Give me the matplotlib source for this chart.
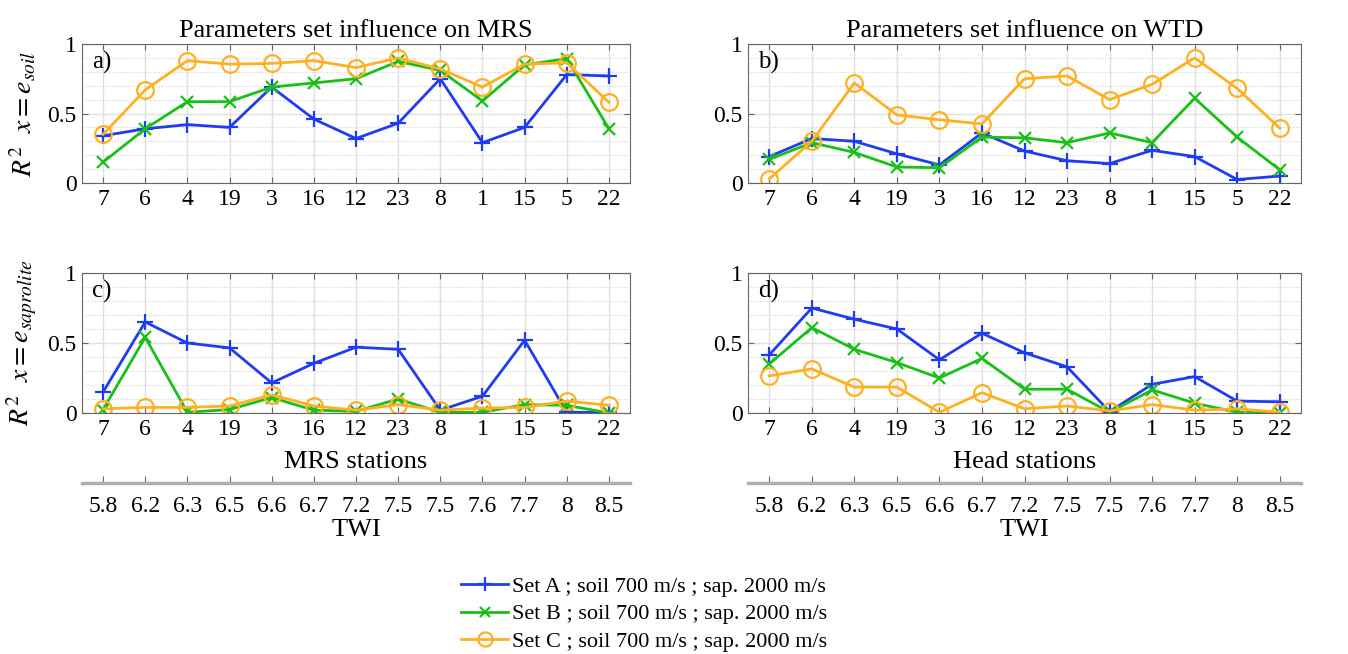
import matplotlib.pyplot as plt
import numpy as np
from matplotlib.ticker import MultipleLocator

plt.rcParams['font.family'] = ['Liberation Serif', 'DejaVu Serif']
plt.rcParams['mathtext.fontset'] = 'stix'

stations = ["7", "6", "4", "19", "3", "16", "12", "23", "8", "1", "15", "5", "22"]
twi = ["5.8", "6.2", "6.3", "6.5", "6.6", "6.7", "7.2", "7.5", "7.5", "7.6", "7.7", "8", "8.5"]

# a) MRS, x = e_soil
a_setA = [0.34, 0.39, 0.42, 0.40, 0.69, 0.46, 0.32, 0.43, 0.75, 0.29, 0.40, 0.78, 0.77]
a_setB = [0.15, 0.39, 0.585, 0.585, 0.69, 0.72, 0.75, 0.875, 0.81, 0.59, 0.85, 0.895, 0.39]
a_setC = [0.35, 0.67, 0.88, 0.855, 0.86, 0.88, 0.83, 0.90, 0.82, 0.69, 0.855, 0.865, 0.58]

# b) WTD, x = e_soil
b_setA = [0.19, 0.32, 0.30, 0.21, 0.13, 0.36, 0.23, 0.16, 0.14, 0.235, 0.19, 0.025, 0.05]
b_setB = [0.17, 0.29, 0.22, 0.115, 0.11, 0.33, 0.325, 0.29, 0.36, 0.29, 0.61, 0.33, 0.095]
b_setC = [0.03, 0.30, 0.72, 0.49, 0.455, 0.425, 0.75, 0.77, 0.60, 0.71, 0.90, 0.68, 0.395]

# c) MRS, x = e_saprolite
c_setA = [0.15, 0.65, 0.50, 0.465, 0.215, 0.355, 0.47, 0.455, 0.02, 0.12, 0.52, 0.005, 0.005]
c_setB = [0.025, 0.54, 0.005, 0.025, 0.11, 0.02, 0.012, 0.10, 0.005, 0.005, 0.06, 0.055, 0.0]
c_setC = [0.03, 0.04, 0.04, 0.05, 0.13, 0.05, 0.02, 0.06, 0.02, 0.035, 0.04, 0.085, 0.055]

# d) WTD, x = e_saprolite
d_setA = [0.415, 0.75, 0.67, 0.60, 0.38, 0.57, 0.43, 0.33, 0.01, 0.205, 0.26, 0.085, 0.08]
d_setB = [0.35, 0.61, 0.455, 0.36, 0.25, 0.39, 0.17, 0.17, 0.005, 0.165, 0.07, 0.005, 0.0]
d_setC = [0.265, 0.315, 0.185, 0.185, 0.005, 0.145, 0.03, 0.05, 0.015, 0.06, 0.02, 0.03, 0.005]

labels = ["Set A ; soil 700 m/s ; sap. 2000 m/s",
          "Set B ; soil 700 m/s ; sap. 2000 m/s",
          "Set C ; soil 700 m/s ; sap. 2000 m/s"]
colors = ["#1f3cf5", "#18c018", "#ffb020"]
markers = ["+", "x", "o"]
msizes = [12, 8, 12]

fig = plt.figure(figsize=(13.48, 6.54), dpi=100)

W, H = 1348, 654
def box(x0, x1, ytop, ybot):
    return [x0 / W, 1 - ybot / H, (x1 - x0) / W, (ybot - ytop) / H]

positions = {
    "a": box(82, 630, 44, 183),
    "b": box(748, 1301, 44, 183),
    "c": box(82, 630, 273, 413),
    "d": box(748, 1301, 273, 413),
}
panel_data = {
    "a": (a_setA, a_setB, a_setC),
    "b": (b_setA, b_setB, b_setC),
    "c": (c_setA, c_setB, c_setC),
    "d": (d_setA, d_setB, d_setC),
}

x = np.arange(1, len(stations) + 1)
handles = []
axes = {}
for key, pos in positions.items():
    ax = fig.add_axes(pos)
    axes[key] = ax
    for vals, col, mk, ms in zip(panel_data[key], colors, markers, msizes):
        h, = ax.plot(x, vals, color=col, marker=mk, markersize=ms, markeredgewidth=1.6,
                     linewidth=2, fillstyle="none")
        if key == "a":
            handles.append(h)
    ax.set_xlim(0.5, 13.5)
    ax.set_ylim(0, 1)
    ax.set_xticks(x)
    ax.set_xticklabels(stations)
    ax.set_yticks([0, 0.5, 1])
    ax.set_yticklabels(["0", "0.5", "1"])
    ax.yaxis.set_minor_locator(MultipleLocator(0.1))
    ax.grid(True, which="major", color="#e0e0e0", linewidth=1)
    ax.grid(True, which="minor", axis="y", color="#d0d0d0", linestyle=":", linewidth=0.8)
    ax.set_axisbelow(True)
    ax.tick_params(direction="in", labelsize=17, top=True, right=True, color="#666666",
                   length=4, pad=4)
    ax.tick_params(which="minor", length=0)
    for s in ax.spines.values():
        s.set_color("#666666")
    ax.text(0.018, 0.95, key + ")", transform=ax.transAxes, fontsize=18, va="top")

axes["a"].set_title("Parameters set influence on MRS", fontsize=19, pad=5)
axes["b"].set_title("Parameters set influence on WTD", fontsize=19, pad=5)
axes["a"].set_ylabel(r"$R^2\ \ x = e_{soil}$", fontsize=20, labelpad=6)
axes["c"].set_ylabel(r"$R^2\ \ x = e_{saprolite}$", fontsize=20, labelpad=6)
axes["c"].set_xlabel("MRS stations", fontsize=19, labelpad=8)
axes["d"].set_xlabel("Head stations", fontsize=19, labelpad=8)

# TWI secondary axes below the bottom panels
for key in ["c", "d"]:
    pos = positions[key]
    tw = fig.add_axes([pos[0], 1 - 483 / H, pos[2], 0.001])
    tw.set_xlim(0.5, 13.5)
    tw.set_ylim(0, 1)
    tw.patch.set_visible(False)
    for side in ["top", "left", "right"]:
        tw.spines[side].set_visible(False)
    tw.spines["bottom"].set_color("#b0b0b0")
    tw.spines["bottom"].set_linewidth(2.5)
    tw.set_yticks([])
    tw.set_xticks(x)
    tw.set_xticklabels(twi)
    tw.tick_params(axis="x", direction="in", length=5, color="#666666", labelsize=17, pad=9)
    tw.set_xlabel("TWI", fontsize=19, labelpad=2)

fig.legend(handles, labels, loc="center", bbox_to_anchor=(0.478, 0.061), frameon=False,
           fontsize=16, handlelength=2.1, handletextpad=0.2, labelspacing=0.3,
           markerscale=0.85)

fig.savefig("out.png", dpi=100)
